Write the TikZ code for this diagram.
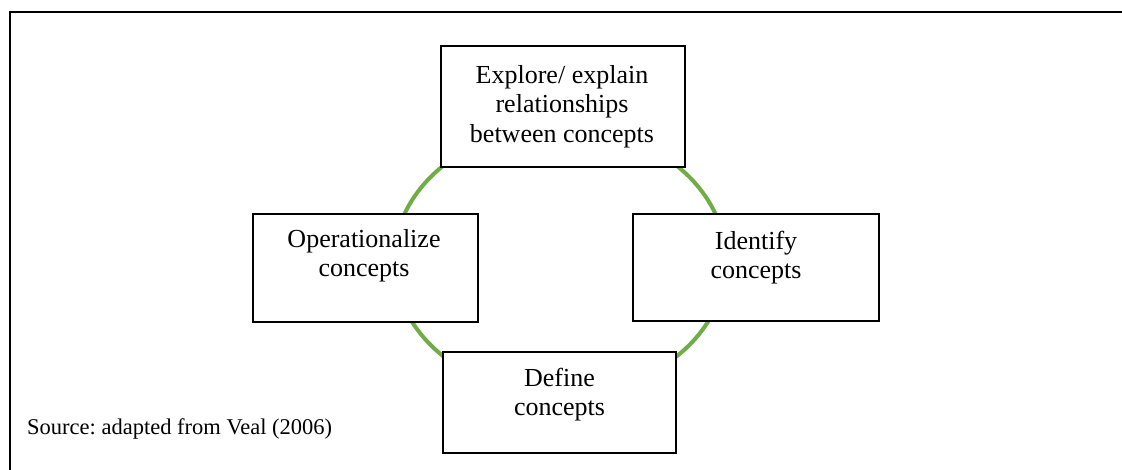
\documentclass[tikz,border=0pt]{standalone}
\usepackage{fontspec}
\setmainfont{Liberation Serif}
\definecolor{cyclegreen}{HTML}{70AD47}
% zero-width strut fixing the top of the first text line
\newcommand\firstline{\rule{0pt}{20pt}}
\frenchspacing
\begin{document}
\begin{tikzpicture}[x=1pt,y=-1pt,
  stagebox/.style={draw=black, line width=1.5pt, fill=white, inner sep=0pt},
  stagetext/.style={anchor=north, align=center, inner sep=0pt,
    font=\fontsize{26}{29.5}\selectfont},
  cycle/.style={draw=cyclegreen, line width=4pt},
  frame/.style={draw=black, line width=2pt}]
\useasboundingbox (0,0) rectangle (1122,470);

% open frame: top and left edges only
\coordinate (frameTL) at (9.5,12.5);
\coordinate (frameTR) at (1122,12.5);
\coordinate (frameBL) at (9.5,470);
\draw[frame] (frameTR) -- (frameTL) -- (frameBL);

% the green cycle behind the boxes
\coordinate (hub) at (560,261);
\draw[cycle] (hub) ellipse [x radius=166, y radius=134];

% stage boxes
\node[stagebox, minimum width=244pt, minimum height=121pt] (explore) at (563,106.5) {};
\node[stagebox, minimum width=225pt, minimum height=108pt] (operate) at (365.5,268) {};
\node[stagebox, minimum width=246pt, minimum height=107pt] (identify) at (756,267.5) {};
\node[stagebox, minimum width=233pt, minimum height=101pt] (define) at (559.5,402.5) {};

% stage labels
\node[stagetext] (exploreText) at (562,63) {\firstline Explore/ explain\\relationships\\between concepts};
\node[stagetext] (operateText) at (364,227) {\firstline Operationalize\\concepts};
\node[stagetext] (identifyText) at (756,229) {\firstline Identify\\concepts};
\node[stagetext] (defineText) at (559.5,366) {\firstline Define\\concepts};

% source note
\node[anchor=base west, inner sep=0pt, font=\fontsize{22.5}{27}\selectfont] (source) at (27,434) {Source: adapted from Veal (2006)};
\end{tikzpicture}
\end{document}
